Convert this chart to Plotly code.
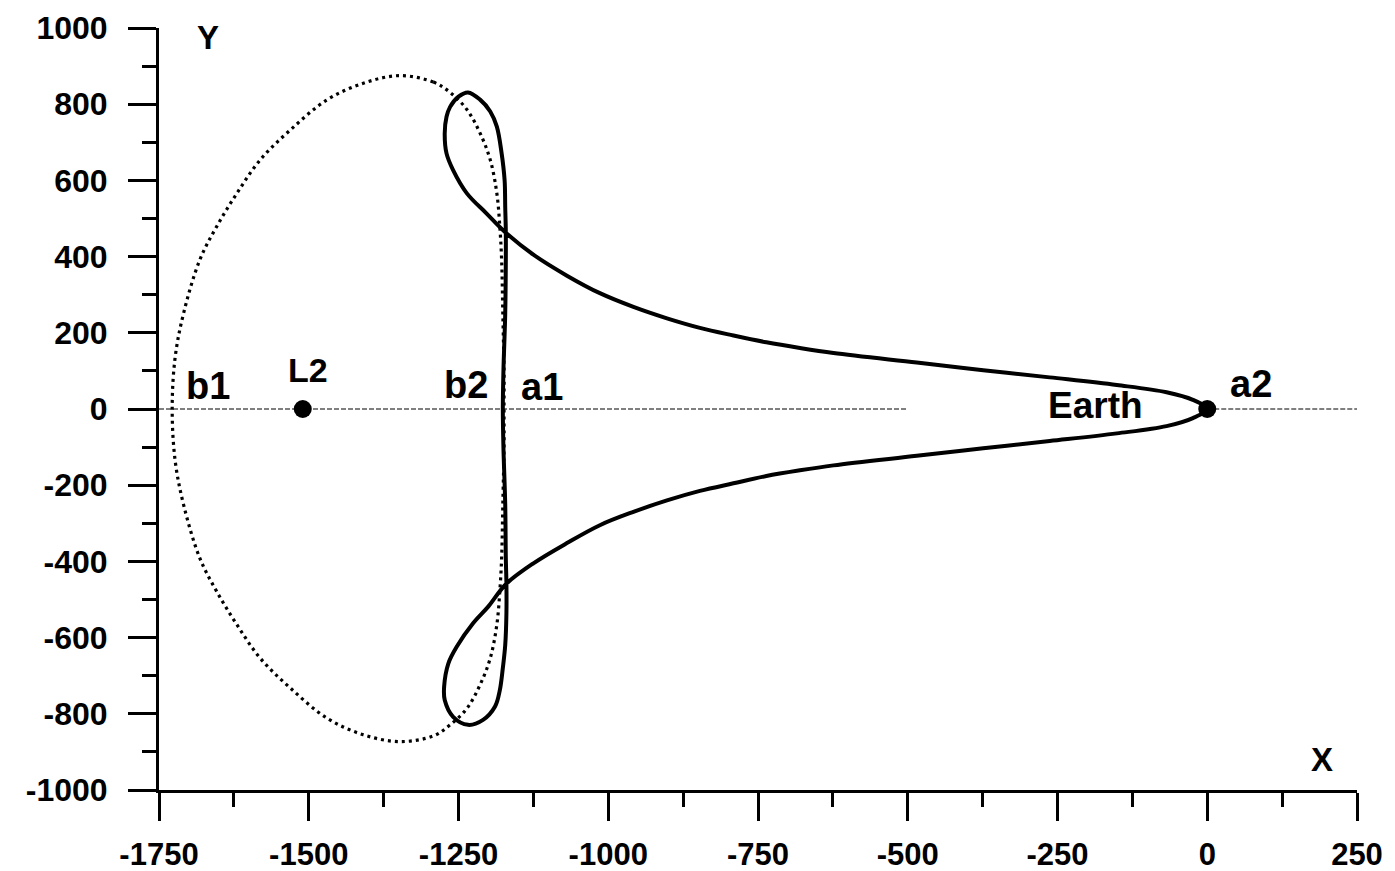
import plotly.graph_objects as go

# ---- data ----
# halo orbit (dotted), closed loop
halo_x = [-1348, -1292, -1264, -1236, -1214, -1197, -1186, -1181, -1178, -1176, -1174, -1174, -1174,
          -1176, -1178, -1181, -1186, -1197, -1214, -1236, -1264, -1292, -1348,
          -1409, -1470, -1531, -1581, -1620, -1654, -1682, -1709, -1723, -1728,
          -1723, -1709, -1682, -1654, -1620, -1581, -1531, -1470, -1409, -1348]
halo_y = [875, 858, 831, 786, 724, 654, 566, 478, 391, 250, 100, 0, -100,
          -250, -391, -478, -566, -654, -724, -786, -829, -858, -873,
          -855, -811, -732, -654, -566, -478, -391, -251, -136, 0,
          136, 251, 391, 478, 566, 654, 732, 811, 855, 875]

# transfer trajectory (solid)
traj_x = [0, -24, -68, -151, -263, -374, -485, -624, -680, -736, -791, -847, -902, -958, -1014,
          -1069, -1125, -1172, -1203, -1236, -1259, -1270, -1273, -1270, -1264, -1250, -1234,
          -1214, -1197, -1186, -1178, -1173, -1172, -1171, -1171, -1172, -1175, -1176,
          -1175, -1172, -1171, -1170, -1170, -1172, -1176, -1181, -1189, -1209, -1234,
          -1259, -1273, -1274, -1267, -1253, -1226, -1200, -1171,
          -1125, -1069, -1014, -958, -902, -847, -791, -736, -680, -624, -485,
          -374, -263, -151, -68, -24, 0]
traj_y = [0, 24, 44, 63, 83, 102, 122, 147, 160, 175, 193, 213, 238, 268, 304,
          350, 405, 464, 513, 566, 627, 671, 724, 767, 793, 820, 831,
          812, 781, 741, 671, 600, 530, 466, 391, 250, 100, 0,
          -100, -250, -391, -460, -536, -620, -680, -738, -781, -816, -829,
          -808, -764, -729, -668, -624, -563, -518, -460,
          -405, -352, -305, -270, -240, -215, -195, -176, -161, -148, -123,
          -103, -84, -64, -45, -24, 0]

# reference line y = 0 (two segments)
axis0_x = [-1750, -500, None, 0, 250]
axis0_y = [0, 0, None, 0, 0]

# points (L2, Earth)
pts_x = [-1510, 0]
pts_y = [0, 0]

# labels
lab_text = ["Y", "X", "b1", "L2", "b2", "a1", "a2", "Earth"]
lab_x = [-1668, 192, -1669, -1502, -1237, -1111, 73, -187]
lab_y = [976, -921, 60, 102, 63, 58, 66, 9]
lab_size = [33, 33, 38, 34, 38, 38, 38, 37]

x_ticks = [-1750, -1500, -1250, -1000, -750, -500, -250, 0, 250]
y_ticks = [-1000, -800, -600, -400, -200, 0, 200, 400, 600, 800, 1000]

FONT = "Liberation Sans, Arial, sans-serif"

fig = go.Figure()
fig.add_trace(go.Scatter(x=axis0_x, y=axis0_y, mode="lines",
                         line=dict(color="black", width=1, dash="5px,2px"), hoverinfo="skip"))
fig.add_trace(go.Scatter(x=halo_x, y=halo_y, mode="lines",
                         line=dict(color="black", width=3.2, dash="3px,4px", shape="spline", smoothing=1.0),
                         hoverinfo="skip"))
fig.add_trace(go.Scatter(x=traj_x, y=traj_y, mode="lines",
                         line=dict(color="black", width=4, shape="spline", smoothing=1.0),
                         hoverinfo="skip"))
fig.add_trace(go.Scatter(x=pts_x, y=pts_y, mode="markers",
                         marker=dict(color="black", size=18, symbol="circle"), cliponaxis=False,
                         hoverinfo="skip"))

for t, x, y, s in zip(lab_text, lab_x, lab_y, lab_size):
    fig.add_annotation(x=x, y=y, text=t, showarrow=False, xanchor="center", yanchor="middle",
                       font=dict(family=FONT, size=s, color="black", weight="bold"))

fig.update_xaxes(range=[-1750, 250], tickmode="array", tickvals=x_ticks,
                 ticktext=[str(v) for v in x_ticks],
                 showline=True, linecolor="black", linewidth=3,
                 ticks="outside", ticklen=28, tickwidth=3, tickcolor="black",
                 minor=dict(ticks="outside", ticklen=14, tickwidth=3, tickcolor="black",
                            tickmode="linear", tick0=-1750, dtick=125),
                 showgrid=False, zeroline=False,
                 tickfont=dict(family=FONT, size=31, color="black", weight="bold"),
                 ticklabelstandoff=7)
fig.update_yaxes(range=[-1000, 1000], tickmode="array", tickvals=y_ticks,
                 ticktext=[str(v) for v in y_ticks],
                 showline=True, linecolor="black", linewidth=3,
                 ticks="outside", ticklen=28, tickwidth=3, tickcolor="black",
                 minor=dict(ticks="outside", ticklen=14, tickwidth=3, tickcolor="black",
                            tickmode="linear", tick0=-1000, dtick=100),
                 showgrid=False, zeroline=False,
                 tickfont=dict(family=FONT, size=32, color="black", weight="bold"),
                 ticklabelstandoff=14)

fig.update_layout(width=1395, height=871, margin=dict(l=159, r=38, t=28, b=81),
                  paper_bgcolor="white", plot_bgcolor="white", showlegend=False,
                  template="none")

fig.write_html("out.html")
